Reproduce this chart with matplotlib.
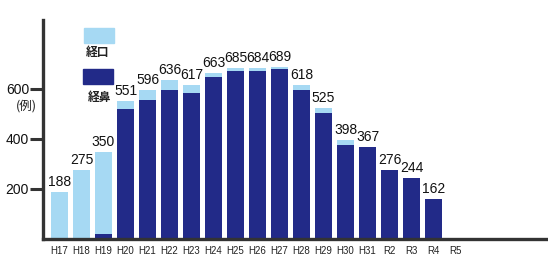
import matplotlib
matplotlib.use('Agg')
import matplotlib.pyplot as plt
from matplotlib.patches import Rectangle
import numpy as np

# データ
years = ['H17', 'H18', 'H19', 'H20', 'H21', 'H22', 'H23', 'H24', 'H25', 'H26',
         'H27', 'H28', 'H29', 'H30', 'H31', 'R2', 'R3', 'R4', 'R5']
totals = [188, 275, 350, 551, 596, 636, 617, 663, 685, 684,
          689, 618, 525, 398, 367, 276, 244, 162, None]
nasal = [0, 0, 20, 519, 556, 596, 585, 647, 673, 672,
         681, 598, 505, 378, 367, 276, 244, 162, 0]   # 経鼻
oral = [188, 275, 330, 32, 40, 40, 32, 16, 12, 12,
        8, 20, 20, 20, 0, 0, 0, 0, 0]                # 経口
yticks = [200, 400, 600]

light = '#a6d9f3'
dark = '#222a88'
axis_col = '#333333'
num_font = ['Liberation Sans Narrow', 'Liberation Sans', 'DejaVu Sans']
jp_font = ['Noto Sans CJK JP', 'DejaVu Sans']

W, H = 548, 270
fig = plt.figure(figsize=(W / 100, H / 100), dpi=100)
ax = fig.add_axes([43 / W, (H - 239) / H, 1 - 43 / W, (239 - 20) / H])

x = np.arange(len(years))
ax.bar(x, nasal, width=0.77, color=dark, zorder=2)
ax.bar(x, oral, width=0.77, bottom=nasal, color=light, zorder=2)

for i, t in enumerate(totals):
    if t is None:
        continue
    ax.annotate(str(t), (x[i], t), xytext=(0, 2), textcoords='offset points',
                ha='center', va='bottom', fontsize=10, color='#111111',
                family=num_font)

ax.set_xlim(-0.75, 22.2)
ax.set_ylim(0, 876)

for s in ['top', 'right']:
    ax.spines[s].set_visible(False)
ax.spines['left'].set_linewidth(2.4)
ax.spines['left'].set_color(axis_col)
ax.spines['bottom'].set_linewidth(2.4)
ax.spines['bottom'].set_color(axis_col)

ax.set_yticks(yticks)
ax.set_yticklabels([str(v) for v in yticks], fontsize=10, family=num_font,
                   color='#111111')
ax.tick_params(axis='y', length=9.5, width=2.2, color=axis_col, pad=0.5)
ax.set_xticks(x)
ax.set_xticklabels(years, fontsize=7, family=num_font, color='#222222')
ax.tick_params(axis='x', length=0, pad=5)

# 単位
fig.text(26 / W, 1 - 106 / H, '(例)', ha='center', va='center', fontsize=9,
         family=jp_font, color='#222222')

# 凡例
fig.patches.append(Rectangle((84 / W, 1 - 43 / H), 30 / W, 15 / H,
                             transform=fig.transFigure, color=light))
fig.text(98 / W, 1 - 52 / H, '経口', ha='center', va='center', fontsize=8.5,
         family=jp_font, color='#222222', fontweight='bold')
fig.patches.append(Rectangle((83 / W, 1 - 84 / H), 30 / W, 15 / H,
                             transform=fig.transFigure, color=dark))
fig.text(100 / W, 1 - 97 / H, '経鼻', ha='center', va='center', fontsize=8.5,
         family=jp_font, color='#222222', fontweight='bold')

fig.savefig('out.png', dpi=100)
